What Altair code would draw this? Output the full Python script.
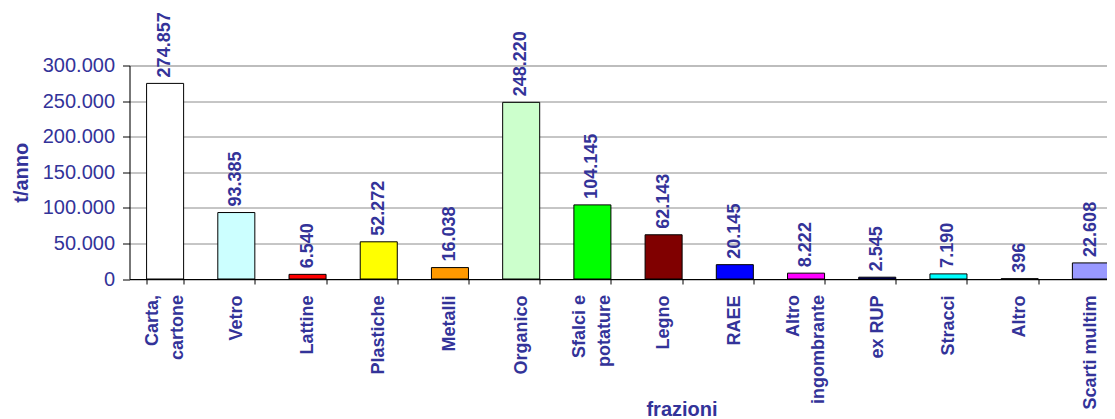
import altair as alt
import pandas as pd

categories = ["Carta,\ncartone", "Vetro", "Lattine", "Plastiche", "Metalli", "Organico",
              "Sfalci e\npotature", "Legno", "RAEE", "Altro\ningombrante", "ex RUP",
              "Stracci", "Altro", "Scarti multim"]
values = [274857, 93385, 6540, 52272, 16038, 248220, 104145, 62143, 20145, 8222, 2545, 7190, 396, 22608]
colors = ["#FFFFFF", "#CCFFFF", "#FF0000", "#FFFF00", "#FF9900", "#CCFFCC", "#00FF00",
          "#800000", "#0000FF", "#FF00FF", "#000080", "#00FFFF", "#C0C0C0", "#9999FF"]
y_ticks = [0, 50000, 100000, 150000, 200000, 250000, 300000]

df = pd.DataFrame({
    "frazione": categories,
    "valore": values,
    "colore": colors,
    "etichetta": [f"{v:,}".replace(",", ".") for v in values],
})

TXT = "#333399"
FONT = "Arial, Liberation Sans, sans-serif"

x_axis = alt.Axis(
    title="frazioni", titleFont=FONT, titleFontSize=20, titleFontWeight="bold",
    titleColor=TXT, titleX=552, titleY=120, titleBaseline="top", titleAlign="center",
    labelAngle=-90, labelAlign="right", labelBaseline="middle",
    labelFont=FONT, labelFontSize=18, labelFontWeight="bold", labelColor=TXT,
    labelPadding=11,
    labelExpr="indexof(datum.label, '\\n') >= 0 ? '' : datum.label",
    tickBand="extent", tickSize=5, tickColor="#000000", domainColor="#000000",
    grid=False, labelOverlap=False,
)
x_enc = alt.X("frazione:N", sort=categories,
              scale=alt.Scale(paddingInner=0.48, paddingOuter=0.24), axis=x_axis)

y_scale = alt.Scale(domain=[0, 300000], nice=False)
y_axis = alt.Axis(
    title="t/anno", titleFont=FONT, titleFontSize=20, titleFontWeight="bold",
    titleColor=TXT, titleX=-102, titleY=106.75, titleAngle=-90,
    titleAlign="center", titleBaseline="alphabetic",
    values=y_ticks, labelExpr="replace(format(datum.value, ','), regexp(',', 'g'), '.')",
    labelFont=FONT, labelFontSize=20, labelColor=TXT, labelPadding=8,
    labelOverlap=False,
    tickSize=7, tickColor="#000000", domainColor="#000000",
    grid=True, gridColor="#8C8C8C", gridWidth=1,
)
y_enc = alt.Y("valore:Q", scale=y_scale, axis=y_axis)

bars = alt.Chart(df).mark_bar(stroke="#000000", strokeWidth=1).encode(
    x=x_enc, y=y_enc, color=alt.Color("colore:N", scale=None)
)

labels = alt.Chart(df).mark_text(
    angle=270, align="left", baseline="middle", dx=6,
    font=FONT, fontSize=18, fontWeight="bold", color=TXT,
).encode(
    x=alt.X("frazione:N", sort=categories),
    y=y_enc,
    text="etichetta:N",
)

# two-line category names, centred on their band
multi = alt.Chart(df).transform_filter(
    "indexof(datum.frazione, '\\n') >= 0"
).transform_calculate(zero="0").mark_text(
    angle=270, align="right", baseline="middle", dx=-16, dy=-12.5,
    lineBreak="\n", lineHeight=25,
    font=FONT, fontSize=18, fontWeight="bold", color=TXT,
).encode(
    x=alt.X("frazione:N", sort=categories),
    y=alt.Y("zero:Q", scale=y_scale, axis=y_axis),
    text="frazione:N",
)

chart = (bars + labels + multi).properties(
    width=997, height=213.5,
    autosize=alt.AutoSizeParams(type="none"),
    padding={"left": 121.5, "top": 57.5, "right": -19.5, "bottom": 140},
).configure_view(stroke=None).configure(background="#FFFFFF")

chart.save("out.html", embed_options={"renderer": "svg", "actions": False})
